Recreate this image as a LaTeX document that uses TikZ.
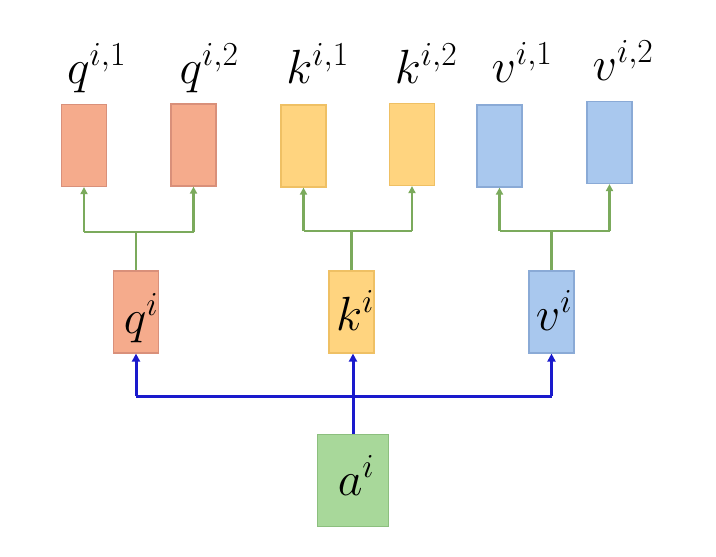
\documentclass[tikz,border=0pt]{standalone}
\usepackage{fix-cm}
\usetikzlibrary{arrows.meta}
\definecolor{qfill}{HTML}{F5AB8C}
\definecolor{qdraw}{HTML}{D9907A}
\definecolor{kfill}{HTML}{FFD47F}
\definecolor{kdraw}{HTML}{EFC064}
\definecolor{vfill}{HTML}{A9C8EE}
\definecolor{vdraw}{HTML}{8AAAD6}
\definecolor{afill}{HTML}{A8D89A}
\definecolor{adraw}{HTML}{8CBF7E}
\definecolor{gline}{HTML}{7BAA5C}
\definecolor{bline}{HTML}{1A1ACC}
\begin{document}
\begin{tikzpicture}[x=1pt,y=-1pt,
  vecbox/.style={draw, line width=1.2pt, inner sep=0pt, minimum width=45pt, minimum height=82pt},
  qbox/.style={vecbox, fill=qfill, draw=qdraw},
  kbox/.style={vecbox, fill=kfill, draw=kdraw},
  vbox/.style={vecbox, fill=vfill, draw=vdraw},
  abox/.style={vecbox, fill=afill, draw=adraw, minimum width=71pt, minimum height=92pt},
  lab/.style={anchor=base, inner sep=0pt, font=\fontsize{48}{56}\selectfont},
  gline/.style={draw=gline, line width=2.4pt},
  garrow/.style={gline, -{Triangle[width=7pt,length=7pt]}},
  bl/.style={draw=bline, line width=3pt},
  barrow/.style={bl, -{Triangle[width=8pt,length=8pt]}}
]
\useasboundingbox (0,0) rectangle (716,557);
% top boxes
\node[qbox] (q1) at (84,145.5) {};
\node[qbox] (q2) at (193.5,145) {};
\node[kbox] (k1) at (303.5,146) {};
\node[kbox] (k2) at (412,144.5) {};
\node[vbox] (v1) at (499.5,146) {};
\node[vbox] (v2) at (609.5,142.5) {};
% middle boxes
\node[qbox] (q) at (136,312) {};
\node[kbox] (k) at (351.5,312) {};
\node[vbox] (v) at (551.5,312) {};
% input box
\node[abox] (a) at (353,480.5) {};
% labels
\node[lab] (lq1) at (96.5,83) {$q^{i,1}$};
\node[lab] (lq2) at (209,83) {$q^{i,2}$};
\node[lab] (lk1) at (317.5,83) {$k^{i,1}$};
\node[lab] (lk2) at (426,83) {$k^{i,2}$};
\node[lab] (lv1) at (522,82) {$v^{i,1}$};
\node[lab] (lv2) at (623,80) {$v^{i,2}$};
\node[lab] (lq) at (141,333) {$q^{i}$};
\node[lab] (lk) at (355,330) {$k^{i}$};
\node[lab] (lv) at (554,330) {$v^{i}$};
\node[lab] (la) at (356,495) {$a^{i}$};
% green splits
\coordinate (qj) at (136,232);
\coordinate (kj) at (351.5,231);
\coordinate (vj) at (551.5,231);
\draw[gline] (q.north) -- (qj);
\draw[gline] (q1.south |- qj) -- (q2.south |- qj);
\draw[garrow] (q1.south |- qj) -- (q1.south);
\draw[garrow] (q2.south |- qj) -- (q2.south);
\draw[gline] (k.north) -- (kj);
\draw[gline] (k1.south |- kj) -- (k2.south |- kj);
\draw[garrow] (k1.south |- kj) -- (k1.south);
\draw[garrow] (k2.south |- kj) -- (k2.south);
\draw[gline] (v.north) -- (vj);
\draw[gline] (v1.south |- vj) -- (v2.south |- vj);
\draw[garrow] (v1.south |- vj) -- (v1.south);
\draw[garrow] (v2.south |- vj) -- (v2.south);
% blue distribution
\coordinate (bj) at (353,396);
\draw[bl] (q.south |- bj) -- (v.south |- bj);
\draw[barrow] (q.south |- bj) -- (q.south);
\draw[barrow] (v.south |- bj) -- (v.south);
\draw[barrow] (a.north) -- (a.north |- k.south);
\end{tikzpicture}
\end{document}
